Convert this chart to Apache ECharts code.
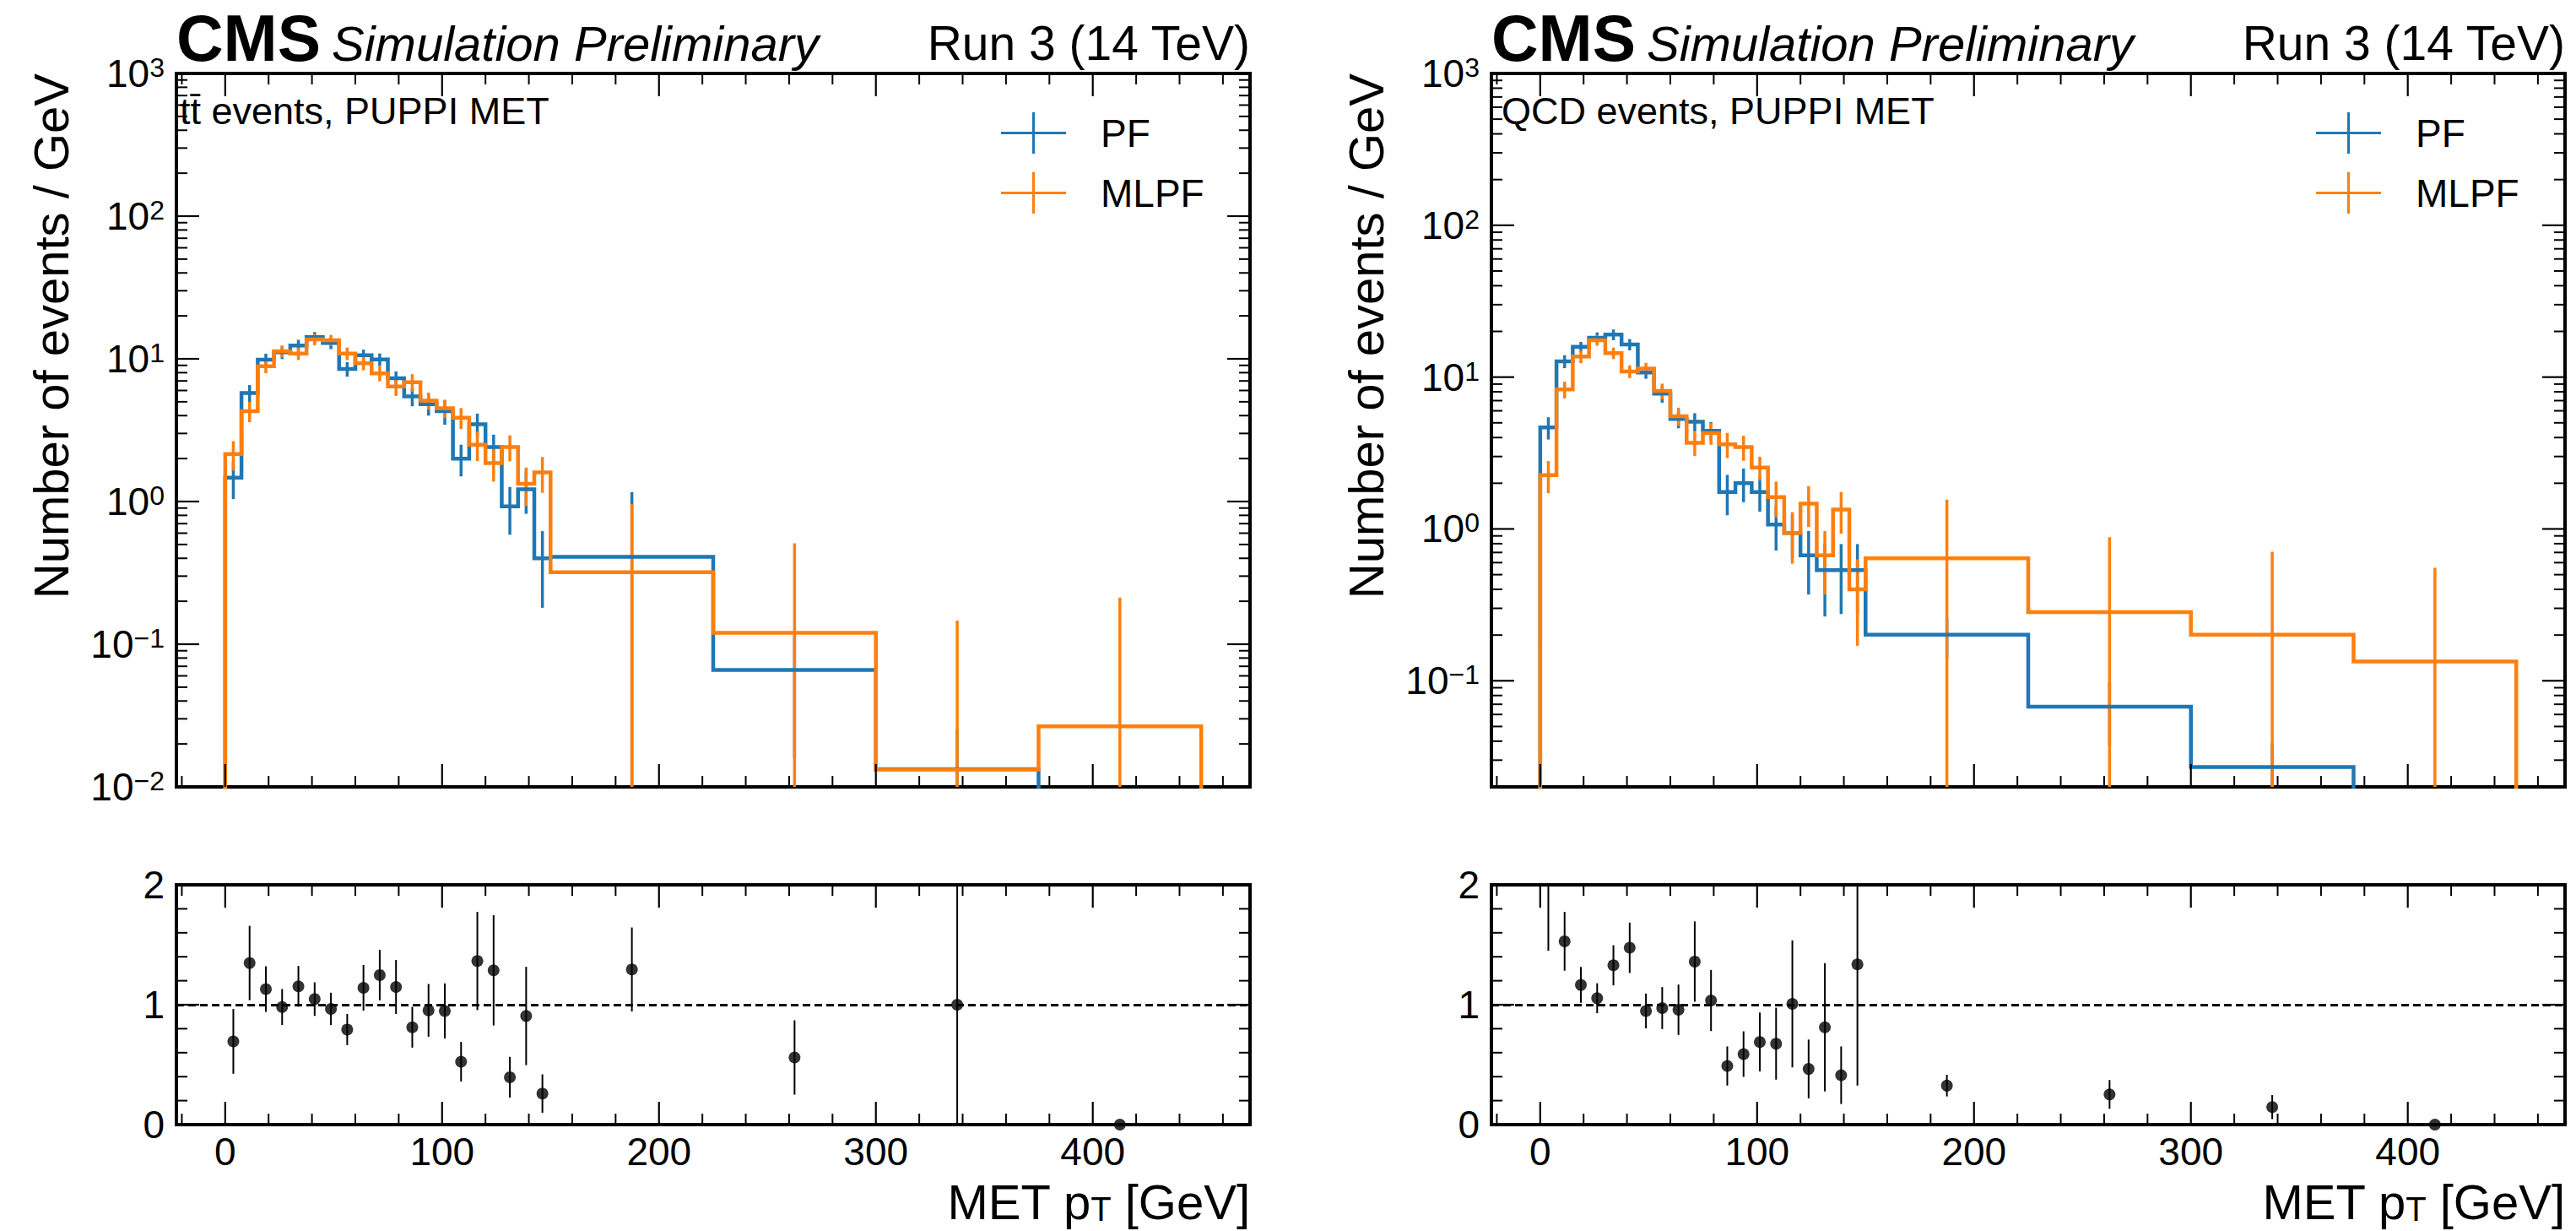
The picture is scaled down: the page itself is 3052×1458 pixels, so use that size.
<!DOCTYPE html>
<html>
<head>
<meta charset="utf-8">
<script src="https://cdn.jsdelivr.net/npm/echarts@6/dist/echarts.min.js"></script>
<style>
html,body{margin:0;padding:0;background:#fff;}
#c{width:3052px;height:1458px;}
</style>
</head>
<body>
<div id="c"></div>
<script>
// ---------------- data ----------------
const binEdges = [0, 7.5, 15, 22.5, 30, 37.5, 45, 52.5, 60, 67.5, 75, 82.5, 90, 97.5, 105, 112.5, 120, 127.5, 135, 142.5, 150, 225, 300, 375, 450];
const xTickLabels = [0, 100, 200, 300, 400];
const ratioTickLabels = [0, 1, 2];

// ttbar events, PUPPI MET (events / GeV)
const ttPF = [1.47, 5.75, 9.86, 11.1, 12.4, 14.2, 12.9, 8.5, 10.6, 9.9, 7.3, 5.45, 4.8, 4.3, 2.0, 3.48, 2.41, 0.925, 1.22, 0.40, 0.41, 0.066, 0.0133, 0];
const ttPFErr = [0.43, 0.8, 1.0, 1.15, 1.2, 1.2, 1.2, 1.0, 1.0, 1.0, 0.85, 0.8, 0.8, 0.85, 0.5, 0.65, 0.53, 0.34, 0.4, 0.22, 0.75, 0.05, 0.012, 0];
const ttMLPF = [2.15, 4.3, 8.88, 11.3, 10.9, 13.7, 13.5, 10.9, 9.3, 7.9, 6.4, 6.85, 5.1, 4.5, 3.87, 2.5, 1.86, 2.41, 1.33, 1.6, 0.32, 0.12, 0.0132, 0.0266];
const ttMLPFErr = [0.5, 0.7, 0.95, 1.1, 1.1, 1.25, 1.2, 1.1, 1.0, 0.95, 0.9, 0.95, 0.7, 0.65, 0.65, 0.58, 0.48, 0.5, 0.4, 0.45, 0.64, 0.39, 0.133, 0.186];
const ttRatio = [0.694, 1.348, 1.13, 0.981, 1.153, 1.047, 0.965, 0.793, 1.141, 1.247, 1.148, 0.812, 0.953, 0.948, 0.525, 1.365, 1.287, 0.395, 0.906, 0.259, 1.294, 0.56, 1.0, 0.0];
const ttRatioErr = [0.27, 0.31, 0.19, 0.15, 0.17, 0.14, 0.135, 0.13, 0.19, 0.21, 0.225, 0.17, 0.22, 0.23, 0.165, 0.41, 0.46, 0.17, 0.41, 0.16, 0.35, 0.31, 1.41, 0];

// QCD events, PUPPI MET (events / GeV)
const qcdPF = [4.66, 12.7, 15.85, 18.2, 19.05, 16.4, 10.7, 7.78, 5.3, 5.08, 4.43, 1.75, 2.0, 1.75, 1.07, 0.94, 0.67, 0.535, 0.535, 0.535, 0.201, 0.0675, 0.027, 0];
const qcdPFErr = [0.78, 1.25, 1.2, 1.5, 1.55, 1.4, 0.95, 1.0, 0.7, 0.7, 0.62, 0.52, 0.5, 0.45, 0.35, 0.3, 0.3, 0.27, 0.26, 0.26, 0.06, 0.03, 0.012, 0];
const qcdMLPF = [2.26, 8.29, 13.65, 17.5, 14.4, 10.9, 11.4, 8.11, 5.53, 3.69, 4.28, 3.61, 3.46, 2.54, 1.62, 0.94, 1.47, 0.67, 1.34, 0.40, 0.64, 0.283, 0.201, 0.134];
const qcdMLPFErr = [0.54, 1.05, 1.3, 1.4, 1.25, 1.05, 1.0, 0.95, 0.76, 0.67, 0.7, 0.68, 0.65, 0.45, 0.43, 0.35, 0.44, 0.3, 0.41, 0.23, 0.92, 0.6, 0.507, 0.42];
const qcdRatio = [2.06, 1.529, 1.165, 1.054, 1.329, 1.475, 0.948, 0.972, 0.958, 1.36, 1.035, 0.489, 0.588, 0.689, 0.675, 1.007, 0.464, 0.812, 0.412, 1.336, 0.325, 0.252, 0.146, 0.0];
const qcdRatioErr = [0.61, 0.245, 0.15, 0.125, 0.167, 0.21, 0.145, 0.175, 0.21, 0.335, 0.255, 0.163, 0.19, 0.245, 0.30, 0.53, 0.245, 0.535, 0.24, 1.01, 0.09, 0.12, 0.1, 0];

// ---------------- helpers ----------------
const FONT = "'Liberation Sans', Arial, Helvetica, sans-serif";
const C_PF = '#1f77b4';
const C_MLPF = '#ff7f0e';
const FLOOR = 1e-6;
const X_MIN = -22.5, X_MAX = 472.5;
const binCenters = binEdges.slice(0, -1).map((e, i) => (e + binEdges[i + 1]) / 2);

function stepData(vals) {
  const n = vals.length;
  const pts = [[binEdges[0], FLOOR]];
  vals.forEach((v, i) => pts.push([binEdges[i], v > 0 ? v : FLOOR]));
  pts.push([binEdges[n], vals[n - 1] > 0 ? vals[n - 1] : FLOOR]);
  pts.push([binEdges[n], FLOOR]);
  return pts;
}

function stepSeries(name, vals, color, gi) {
  return {
    type: 'line', name: name, xAxisIndex: gi, yAxisIndex: gi,
    data: stepData(vals), step: 'end', showSymbol: false, symbol: 'none',
    clip: true, silent: true, animation: false,
    color: color, itemStyle: { color: color },
    lineStyle: { color: color, width: 4.5, join: 'miter' }
  };
}

function errSeries(name, vals, errs, color, gi, width, floor) {
  const data = [];
  binCenters.forEach((c, i) => { if (errs[i] > 0) data.push([c, vals[i], errs[i]]); });
  return {
    type: 'custom', name: name, xAxisIndex: gi, yAxisIndex: gi, clip: true, silent: true,
    animation: false, encode: { x: 0, y: 1 }, data: data,
    itemStyle: { color: color },
    renderItem: function (params, api) {
      const c = api.value(0), v = api.value(1), e = api.value(2);
      const lo = Math.max(v - e, floor), hi = v + e;
      const p1 = api.coord([c, lo]), p2 = api.coord([c, hi]);
      return { type: 'line', shape: { x1: p1[0], y1: p1[1], x2: p2[0], y2: p2[1] },
               style: { stroke: color, lineWidth: width } };
    }
  };
}

function ratioPoints(vals, gi) {
  return {
    type: 'scatter', name: 'ratio', xAxisIndex: gi, yAxisIndex: gi, clip: true, silent: true,
    animation: false, symbol: 'circle', symbolSize: 14,
    itemStyle: { color: '#000' },
    data: binCenters.map((c, i) => [c, vals[i]]),
    markLine: {
      silent: true, symbol: 'none', animation: false, label: { show: false },
      lineStyle: { color: '#000', type: [9, 5], width: 3 },
      data: [{ yAxis: 1 }]
    }
  };
}

function range(a, b, s) { const r = []; for (let v = a; v <= b + 1e-9; v += s) r.push(Math.round(v * 1000) / 1000); return r; }
const xMinor = range(-20, 460, 20).filter(v => v % 100 !== 0);
function logMajor(lo, hi) { const r = []; for (let k = -3; k <= 3; k++) { const v = Math.pow(10, k); if (v >= lo * 0.999 && v <= hi * 1.001) r.push(v); } return r; }
function logMinor(lo, hi) { const r = []; for (let k = -3; k <= 2; k++) for (let m = 2; m <= 9; m++) { const v = m * Math.pow(10, k); if (v > lo && v < hi) r.push(v); } return r; }
const ratioMinor = range(0.2, 1.8, 0.2).filter(v => Math.abs(v - 1) > 1e-6);

function tickSeries(gi, yMajor, yMinor, yref) {
  return {
    type: 'custom', xAxisIndex: gi, yAxisIndex: gi, silent: true, z: 10, clip: false,
    animation: false, data: [[0, yref]], encode: { x: 0, y: 1 },
    renderItem: function (params, api) {
      const cs = params.coordSys;
      const x0 = cs.x, y0 = cs.y, w = cs.width, h = cs.height;
      const ch = [];
      const add = (x1, y1, x2, y2, lw) => ch.push({ type: 'line', shape: { x1: x1, y1: y1, x2: x2, y2: y2 }, style: { stroke: '#000', lineWidth: lw } });
      xTickLabels.forEach(t => { const p = api.coord([t, yref])[0]; add(p, y0 + h, p, y0 + h - 27, 2.2); add(p, y0, p, y0 + 27, 2.2); });
      xMinor.forEach(t => { if (t <= X_MIN || t >= X_MAX) return; const p = api.coord([t, yref])[0]; add(p, y0 + h, p, y0 + h - 13, 2); add(p, y0, p, y0 + 13, 2); });
      yMajor.forEach(t => { const q = api.coord([0, t])[1]; add(x0, q, x0 + 27, q, 2.2); add(x0 + w, q, x0 + w - 27, q, 2.2); });
      yMinor.forEach(t => { const q = api.coord([0, t])[1]; add(x0, q, x0 + 13, q, 2); add(x0 + w, q, x0 + w - 13, q, 2); });
      return { type: 'group', children: ch };
    }
  };
}

function logLabel(value) {
  const l = Math.log10(value);
  const k = Math.round(l);
  if (Math.abs(l - k) > 1e-6) return '';
  return '10{sup|' + (k < 0 ? '\u2212' + (-k) : k) + '}';
}

// ---------------- layout ----------------
const LEFT = [209, 1767];
const W = 1272;
const MAIN_TOP = 87, MAIN_H = 845;
const RAT_TOP = 1048, RAT_H = 284;
const Y_MIN = [0.01, 0.02], Y_MAX = 1000;

const grids = [], xAxes = [], yAxes = [];
[0, 1].forEach(p => {
  grids.push({ left: LEFT[p], top: MAIN_TOP, width: W, height: MAIN_H, show: true, borderColor: '#000', borderWidth: 4, backgroundColor: 'transparent', containLabel: false, outerBoundsMode: 'none' });
  grids.push({ left: LEFT[p], top: RAT_TOP, width: W, height: RAT_H, show: true, borderColor: '#000', borderWidth: 4, backgroundColor: 'transparent', containLabel: false, outerBoundsMode: 'none' });
});
grids.forEach((g, gi) => {
  const isRatio = gi % 2 === 1;
  xAxes.push({
    gridIndex: gi, type: 'value', min: X_MIN, max: X_MAX,
    axisLine: { show: false }, axisTick: { show: false }, splitLine: { show: false },
    axisLabel: { show: isRatio, customValues: xTickLabels, fontSize: 46, color: '#000', fontFamily: FONT, margin: 9 }
  });
  if (isRatio) {
    yAxes.push({
      gridIndex: gi, type: 'value', min: 0, max: 2, interval: 1,
      axisLine: { show: false }, axisTick: { show: false }, splitLine: { show: false },
      axisLabel: { fontSize: 46, color: '#000', fontFamily: FONT, margin: 14 }
    });
  } else {
    yAxes.push({
      gridIndex: gi, type: 'log', logBase: 10, min: Y_MIN[gi / 2], max: Y_MAX,
      axisLine: { show: false }, axisTick: { show: false }, splitLine: { show: false },
      axisLabel: {
        fontSize: 46, lineHeight: 46, color: '#000', fontFamily: FONT, margin: 14,
        formatter: logLabel,
        rich: { sup: { fontSize: 32, lineHeight: 30, verticalAlign: 'top', color: '#000', fontFamily: FONT } }
      }
    });
  }
});

const series = [
  // ttbar main
  stepSeries('PF', ttPF, C_PF, 0),
  errSeries('PF', ttPF, ttPFErr, C_PF, 0, 3.5, FLOOR),
  stepSeries('MLPF', ttMLPF, C_MLPF, 0),
  errSeries('MLPF', ttMLPF, ttMLPFErr, C_MLPF, 0, 3.5, FLOOR),
  // ttbar ratio
  errSeries('ratio', ttRatio, ttRatioErr, '#000', 1, 2, -10),
  ratioPoints(ttRatio, 1),
  // QCD main
  stepSeries('PF', qcdPF, C_PF, 2),
  errSeries('PF', qcdPF, qcdPFErr, C_PF, 2, 3.5, FLOOR),
  stepSeries('MLPF', qcdMLPF, C_MLPF, 2),
  errSeries('MLPF', qcdMLPF, qcdMLPFErr, C_MLPF, 2, 3.5, FLOOR),
  // QCD ratio
  errSeries('ratio', qcdRatio, qcdRatioErr, '#000', 3, 2, -10),
  ratioPoints(qcdRatio, 3),
  // ticks
  tickSeries(0, logMajor(Y_MIN[0], Y_MAX), logMinor(Y_MIN[0], Y_MAX), 1),
  tickSeries(1, ratioTickLabels, ratioMinor, 1),
  tickSeries(2, logMajor(Y_MIN[1], Y_MAX), logMinor(Y_MIN[1], Y_MAX), 1),
  tickSeries(3, ratioTickLabels, ratioMinor, 1)
];

const crossIcon = 'path://M0,23L77,23L77,26L0,26Z M37,0L40,0L40,49L37,49Z';
function legendAt(left) {
  return {
    data: [{ name: 'PF' }, { name: 'MLPF' }], orient: 'vertical', left: left, top: 133,
    itemWidth: 77, itemHeight: 49, itemGap: 22, icon: crossIcon, padding: 0,
    selectedMode: false, itemStyle: { borderWidth: 0 },
    textStyle: { fontSize: 46, color: '#000', fontFamily: FONT, padding: [0, 0, 0, 36] }
  };
}

function headerTexts(p, label) {
  const L = LEFT[p], R = LEFT[p] + W;
  return [
    { type: 'text', x: L, y: 45, style: { text: 'CMS', font: 'bold 77px ' + FONT, fill: '#000', align: 'left', verticalAlign: 'middle' } },
    { type: 'text', x: L + 184, y: 51, style: { text: 'Simulation Preliminary', font: 'italic 58px ' + FONT, fill: '#000', align: 'left', verticalAlign: 'middle' } },
    { type: 'text', x: R, y: 51, style: { text: 'Run 3 (14 TeV)', font: '57px ' + FONT, fill: '#000', align: 'right', verticalAlign: 'middle' } },
    { type: 'text', x: L + (p === 0 ? 4 : 12), y: 131, style: { text: label, font: '45px ' + FONT, fill: '#000', align: 'left', verticalAlign: 'middle' } },
    { type: 'text', x: L - 149, y: MAIN_TOP, rotation: Math.PI / 2, style: { text: 'Number of events / GeV', font: '58px ' + FONT, fill: '#000', align: 'right', verticalAlign: 'middle' } },
    { type: 'text', x: R, y: 1423, style: {
        text: 'MET p{sub|T} [GeV]', font: '58px ' + FONT, fontSize: 58, fontFamily: FONT, fill: '#000', align: 'right', verticalAlign: 'middle',
        rich: { sub: { fontSize: 40, lineHeight: 24, verticalAlign: 'bottom', fontFamily: FONT, fill: '#000' } } } }
  ];
}

const chart = echarts.init(document.getElementById('c'), null, { renderer: 'svg', width: 3052, height: 1458 });
chart.setOption({
  animation: false,
  backgroundColor: '#fff',
  textStyle: { fontFamily: FONT },
  grid: grids,
  xAxis: xAxes,
  yAxis: yAxes,
  legend: [legendAt(1186), legendAt(2744)],
  series: series,
  graphic: headerTexts(0, 'tt\u0304 events, PUPPI MET').concat(headerTexts(1, 'QCD events, PUPPI MET'))
});
</script>
</body>
</html>
